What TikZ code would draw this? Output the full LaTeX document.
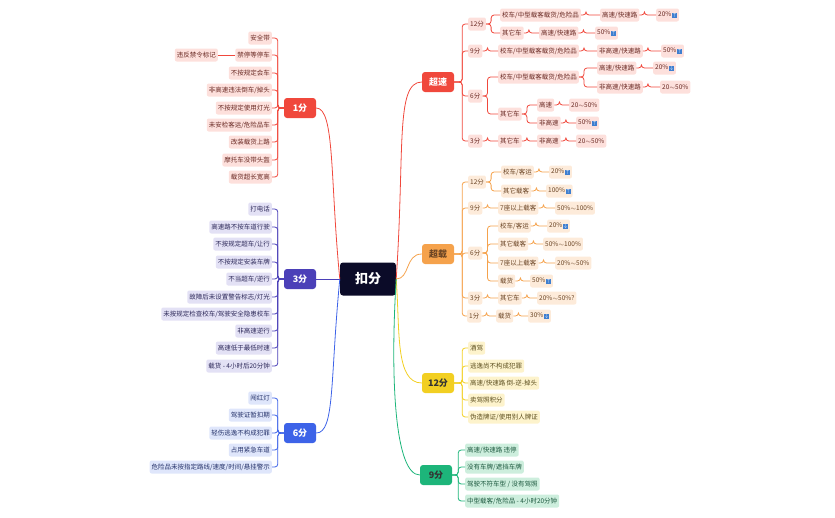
\documentclass[tikz,border=0pt]{standalone}
\usepackage{fontspec}
\setmainfont{Noto Sans CJK SC}
\usetikzlibrary{positioning}
\definecolor{cR}{HTML}{F0483C}\definecolor{fR}{HTML}{FDE0DC}\definecolor{tR}{HTML}{6A2A24}
\definecolor{cO}{HTML}{F5A24C}\definecolor{fO}{HTML}{FDEBDA}\definecolor{tO}{HTML}{6A4424}
\definecolor{cY}{HTML}{F2CF22}\definecolor{fY}{HTML}{FDF3CC}\definecolor{tY}{HTML}{5E5020}
\definecolor{cG}{HTML}{1DB57A}\definecolor{fG}{HTML}{CDEEDD}\definecolor{tG}{HTML}{1E5A40}
\definecolor{cP}{HTML}{4B40B8}\definecolor{fP}{HTML}{E3E1F5}\definecolor{tP}{HTML}{2E2A5A}
\definecolor{cB}{HTML}{3D63E8}\definecolor{fB}{HTML}{DFE6FB}\definecolor{tB}{HTML}{25326A}
\definecolor{cN}{HTML}{0B0B28}\definecolor{icb}{HTML}{3F7FD0}
\newcommand\myup{\,{\fboxsep=0.4pt\colorbox{icb}{\textcolor{white}{\tiny$\uparrow$}}}}
\newcommand\mydn{\,{\fboxsep=0.4pt\colorbox{icb}{\textcolor{white}{\tiny$\downarrow$}}}}
\newcommand\lk[3]{\draw[#3,rounded corners=3pt] (#1.east) -- ++(5,0) |- (#2.west);}
\newcommand\lkr[3]{\draw[#3,rounded corners=3pt] (#1.east) -- ++(8,0) |- (#2.west);}
\newcommand\lkl[3]{\draw[#3,rounded corners=3pt] (#1.west) -- ++(-6,0) |- (#2.east);}
\begin{document}
\begin{tikzpicture}[x=1pt,y=-1pt,
  every node/.style={font=\fontsize{6.5}{7}\selectfont, rounded corners=2pt, inner sep=2pt, minimum height=13pt},
  nR/.style={fill=fR,text=tR,anchor=west}, lR/.style={cR,line width=0.8pt},
  nO/.style={fill=fO,text=tO,anchor=west}, lO/.style={cO,line width=0.8pt},
  nY/.style={fill=fY,text=tY,anchor=west}, lY/.style={cY,line width=0.8pt},
  nG/.style={fill=fG,text=tG,anchor=west}, lG/.style={cG,line width=0.8pt},
  nP/.style={fill=fP,text=tP,anchor=east}, lP/.style={cP,line width=0.8pt},
  nB/.style={fill=fB,text=tB,anchor=east}, lB/.style={cB,line width=0.8pt},
  nL/.style={fill=fR,text=tR,anchor=east},
  root/.style={font=\fontsize{9}{10}\selectfont\bfseries, minimum width=32pt, minimum height=20pt, rounded corners=3pt}]
\useasboundingbox (0,0) rectangle (835,517);
\node[root,fill=cN,text=white,font=\fontsize{13}{14}\selectfont\bfseries,minimum width=56pt,minimum height=33pt] (C) at (368,279) {扣分};
% roots
\node[root,fill=cR,text=white] (CS) at (438,82) {超速};
\node[root,fill=cO,text=tO] (CZ) at (438,254) {超载};
\node[root,fill=cY,text=black!80] (Y12) at (438,383) {12分};
\node[root,fill=cG,text=black!80] (G9) at (436,475) {9分};
\node[root,fill=cR,text=white] (L1) at (300,108) {1分};
\node[root,fill=cP,text=white] (L3) at (300,279) {3分};
\node[root,fill=cB,text=white] (L6) at (300,433) {6分};
\draw[lR] (C.east) .. controls (405,150) and (395,82) .. (CS.west);
\draw[lO] (C.east) .. controls (410,279) and (405,254) .. (CZ.west);
\draw[lY] (C.east) .. controls (400,330) and (395,383) .. (Y12.west);
\draw[lG] (C.east) .. controls (390,380) and (395,475) .. (G9.west);
\draw[lR] (C.west) .. controls (330,180) and (335,108) .. (L1.east);
\draw[lP] (C.west) -- (L3.east);
\draw[lB] (C.west) .. controls (330,380) and (335,433) .. (L6.east);
% 超速
\node[nR] (s12) at (468,24) {12分};
\node[nR] (s9) at (468,51) {9分};
\node[nR] (s6) at (468,96) {6分};
\node[nR] (s3) at (468,141) {3分};
\foreach \n in {s12,s9,s6,s3}{\lkr{CS}{\n}{lR}}
\node[nR] (a1) at (500,15) {校车/中型载客载货/危险品};
\node[nR] (a2) at (600,15) {高速/快速路};
\node[nR] (a3) at (656,15) {20\%\myup};
\node[nR] (b1) at (500,33) {其它车};
\node[nR] (b2) at (539,33) {高速/快速路};
\node[nR] (b3) at (595,33) {50\%\myup};
\lk{s12}{a1}{lR}\lk{s12}{b1}{lR}\lk{a1}{a2}{lR}\lk{a2}{a3}{lR}\lk{b1}{b2}{lR}\lk{b2}{b3}{lR}
\node[nR] (c1) at (498,51) {校车/中型载客载货/危险品};
\node[nR] (c2) at (597,51) {非高速/快速路};
\node[nR] (c3) at (661,51) {50\%\myup};
\lk{s9}{c1}{lR}\lk{c1}{c2}{lR}\lk{c2}{c3}{lR}
\node[nR] (d1) at (498,77) {校车/中型载客载货/危险品};
\node[nR] (d2) at (597,68) {高速/快速路};
\node[nR] (d3) at (653,68) {20\%\mydn};
\node[nR] (d4) at (597,87) {非高速/快速路};
\node[nR] (d5) at (660,87) {20$\sim$50\%};
\node[nR] (e1) at (498,114) {其它车};
\node[nR] (e2) at (537,105) {高速};
\node[nR] (e3) at (569,105) {20$\sim$50\%};
\node[nR] (e4) at (537,123) {非高速};
\node[nR] (e5) at (576,123) {50\%\myup};
\lk{s6}{d1}{lR}\lk{s6}{e1}{lR}\lk{d1}{d2}{lR}\lk{d2}{d3}{lR}\lk{d1}{d4}{lR}\lk{d4}{d5}{lR}
\lk{e1}{e2}{lR}\lk{e2}{e3}{lR}\lk{e1}{e4}{lR}\lk{e4}{e5}{lR}
\node[nR] (f1) at (498,141) {其它车};
\node[nR] (f2) at (537,141) {非高速};
\node[nR] (f3) at (576,141) {20$\sim$50\%};
\lk{s3}{f1}{lR}\lk{f1}{f2}{lR}\lk{f2}{f3}{lR}
% 超载
\node[nO] (o12) at (468,182) {12分};
\node[nO] (o9) at (468,208) {9分};
\node[nO] (o6) at (468,253) {6分};
\node[nO] (o3) at (468,298) {3分};
\node[nO] (o1) at (467,316) {1分};
\foreach \n in {o12,o9,o6,o3,o1}{\lkr{CZ}{\n}{lO}}
\node[nO] (g1) at (501,172) {校车/客运};
\node[nO] (g2) at (549,172) {20\%\myup};
\node[nO] (g3) at (501,191) {其它载客};
\node[nO] (g4) at (546,191) {100\%\myup};
\lk{o12}{g1}{lO}\lk{g1}{g2}{lO}\lk{o12}{g3}{lO}\lk{g3}{g4}{lO}
\node[nO] (h1) at (498,208) {7座以上载客};
\node[nO] (h2) at (555,208) {50\%$\sim$100\%};
\lk{o9}{h1}{lO}\lk{h1}{h2}{lO}
\node[nO] (i1) at (498,226) {校车/客运};
\node[nO] (i2) at (547,226) {20\%\mydn};
\node[nO] (i3) at (498,244) {其它载客};
\node[nO] (i4) at (543,244) {50\%$\sim$100\%};
\node[nO] (i5) at (498,263) {7座以上载客};
\node[nO] (i6) at (555,263) {20\%$\sim$50\%};
\node[nO] (i7) at (498,281) {载货};
\node[nO] (i8) at (530,281) {50\%\myup};
\lk{o6}{i1}{lO}\lk{i1}{i2}{lO}\lk{o6}{i3}{lO}\lk{i3}{i4}{lO}
\lk{o6}{i5}{lO}\lk{i5}{i6}{lO}\lk{o6}{i7}{lO}\lk{i7}{i8}{lO}
\node[nO] (j1) at (498,298) {其它车};
\node[nO] (j2) at (537,298) {20\%$\sim$50\%?};
\node[nO] (k1) at (496,316) {载货};
\node[nO] (k2) at (528,316) {30\%\mydn};
\lk{o3}{j1}{lO}\lk{j1}{j2}{lO}\lk{o1}{k1}{lO}\lk{k1}{k2}{lO}
% 12分
\node[nY] (y1) at (468,348) {酒驾};
\node[nY] (y2) at (468,366) {逃逸尚不构成犯罪};
\node[nY] (y3) at (468,383) {高速/快速路 倒-逆-掉头};
\node[nY] (y4) at (468,400) {卖驾照积分};
\node[nY] (y5) at (468,417) {伪造牌证/使用别人牌证};
\foreach \n in {y1,y2,y3,y4,y5}{\lkr{Y12}{\n}{lY}}
% 9分
\node[nG] (z1) at (465,450) {高速/快速路 违停};
\node[nG] (z2) at (465,467) {没有车牌/遮挡车牌};
\node[nG] (z3) at (465,484) {驾驶不符车型 / 没有驾照};
\node[nG] (z4) at (465,501) {中型载客/危险品 - 4小时20分钟};
\foreach \n in {z1,z2,z3,z4}{\draw[lG,rounded corners=3pt] (G9.east) -- ++(6,0) |- (\n.west);}
% left 1分
\node[nL] (p1) at (272,38) {安全带};
\node[nL] (p2) at (272,55) {禁停等停车};
\node[nL] (p3) at (272,73) {不按规定会车};
\node[nL] (p4) at (272,90) {非高速违法倒车/掉头};
\node[nL] (p5) at (272,108) {不按规定使用灯光};
\node[nL] (p6) at (272,125) {未安检客运/危险品车};
\node[nL] (p7) at (272,142) {改装载货上路};
\node[nL] (p8) at (272,160) {摩托车没带头盔};
\node[nL] (p9) at (272,177) {载货超长宽高};
\foreach \n in {p1,p2,p3,p4,p5,p6,p7,p8,p9}{\lkl{L1}{\n}{lR}}
\node[nL] (p0) at (218,55) {违反禁令标记};
\draw[lR] (p2.west) -- (p0.east);
% left 3分
\node[nP] (q1) at (272,209) {打电话};
\node[nP] (q2) at (272,227) {高速路不按车道行驶};
\node[nP] (q3) at (272,244) {不按规定超车/让行};
\node[nP] (q4) at (272,262) {不按规定安装车牌};
\node[nP] (q5) at (272,279) {不当超车/逆行};
\node[nP] (q6) at (272,297) {故障后未设置警告标志/灯光};
\node[nP] (q7) at (272,314) {未按规定检查校车/驾驶安全隐患校车};
\node[nP] (q8) at (272,331) {非高速逆行};
\node[nP] (q9) at (272,348) {高速低于最低时速};
\node[nP] (q10) at (272,366) {载货 - 4小时后20分钟};
\foreach \n in {q1,q2,q3,q4,q5,q6,q7,q8,q9,q10}{\lkl{L3}{\n}{lP}}
% left 6分
\node[nB] (r1) at (272,398) {闯红灯};
\node[nB] (r2) at (272,415) {驾驶证暂扣期};
\node[nB] (r3) at (272,433) {轻伤逃逸不构成犯罪};
\node[nB] (r4) at (272,450) {占用紧急车道};
\node[nB] (r5) at (272,467) {危险品未按指定路线/速度/时间/悬挂警示};
\foreach \n in {r1,r2,r3,r4,r5}{\lkl{L6}{\n}{lB}}
\end{tikzpicture}
\end{document}
